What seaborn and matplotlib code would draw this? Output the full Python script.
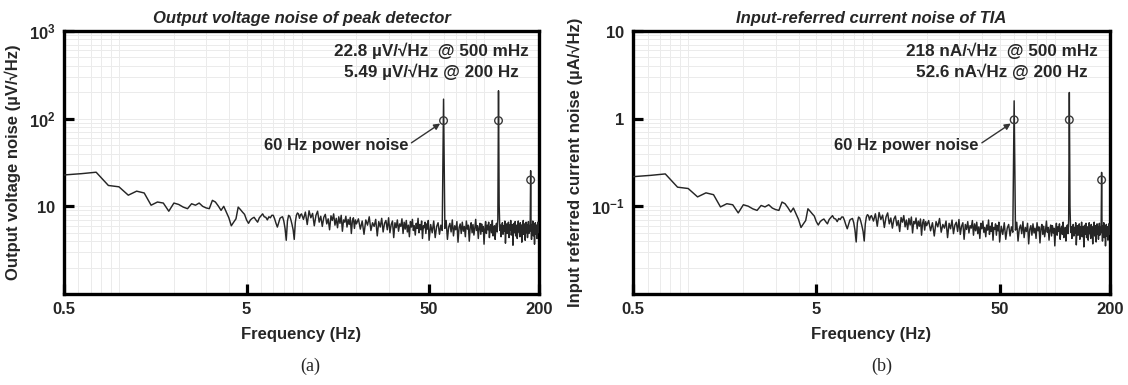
import numpy as np
import pandas as pd
import matplotlib
matplotlib.use("Agg")
import matplotlib.pyplot as plt
import seaborn as sns
from matplotlib.ticker import FixedLocator, FixedFormatter, NullFormatter, LogLocator

# ---------------- data ----------------
# FFT frequency grids (Hz)
freq_low = np.arange(0.5, 10.0001, 0.125)
freq_mid = np.arange(10.25, 20.0001, 0.25)
freq_upper = np.arange(20.5, 50.0001, 0.5)
freq_high = np.arange(51, 200.0001, 1.0)

# output voltage noise of peak detector (uV/sqrt(Hz))
noise_low = [22.8, 23.6, 24.5, 17.3, 16.7, 13.4, 14.9, 14.2, 10.3, 11.2, 10.9, 8.8, 10.9, 10.5,
             9.8, 9.4, 10.7, 10.3, 10.9, 10.0, 9.6, 9.4, 11.7, 11.2, 10.1, 9.0, 10.0, 8.6, 7.4,
             6.0, 6.6, 7.2, 9.8, 9.2, 8.6, 8.1, 7.0, 6.4, 7.0, 7.3, 7.5, 7.0, 6.6, 7.4, 7.8,
             8.2, 7.6, 7.5, 7.0, 7.6, 7.4, 7.9, 7.9, 7.2, 6.4, 5.8, 6.5, 7.3, 7.5, 7.6, 6.8,
             5.6, 4.1, 6.8, 7.9, 7.7, 7.0, 6.2, 5.4, 4.2, 6.6, 7.9, 8.4, 8.2, 7.3, 8.0, 8.2]
noise_mid = [7.1, 8.6, 6.2, 8.9, 7.4, 8.3, 6.0, 7.9, 8.8, 6.6, 7.7, 5.9, 7.5, 8.1, 6.3, 7.2,
             5.4, 7.8, 6.9, 8.2, 6.1, 7.3, 5.7, 7.6, 6.4, 7.9, 5.2, 7.0, 6.6, 7.7, 5.8, 7.1,
             6.2, 7.5, 4.9, 6.8, 7.4, 5.6, 7.0, 6.3]
noise_upper = [7.2, 5.5, 6.8, 4.8, 7.0, 6.1, 7.6, 5.3, 6.5, 5.9, 7.1, 4.6, 6.7, 5.8, 7.3,
               5.1, 6.4, 6.9, 5.4, 7.4, 5.0, 6.2, 6.8, 4.4, 6.5, 5.7, 7.0, 5.2, 6.3, 5.9,
               7.2, 4.9, 6.6, 5.5, 6.9, 5.1, 6.1, 4.5, 6.7, 5.8, 7.1, 5.3, 6.0, 4.7, 6.4,
               5.6, 7.3, 5.0, 6.2, 5.4, 6.8, 4.3, 6.0, 5.7, 6.6, 4.9, 6.3, 5.5, 6.9, 4.1]
noise_high = [6.2, 5.0, 6.8, 4.4, 5.9, 6.5, 4.8, 6.1, 5.3, 167.0, 5.6, 6.9, 4.2, 5.8, 6.4,
              5.1, 7.0, 4.6, 6.0, 5.4, 6.7, 3.9, 5.7, 6.3, 4.9, 6.6, 5.2, 5.9, 4.5, 6.8,
              5.5, 6.1, 4.0, 5.8, 6.5, 5.0, 6.2, 4.7, 5.6, 7.1, 5.3, 6.0, 4.3, 5.7, 6.4,
              4.8, 6.3, 5.2, 5.9, 3.7, 5.5, 6.7, 4.9, 6.1, 5.4, 6.6, 4.4, 5.8, 6.2, 5.0,
              6.9, 4.6, 5.6, 6.0, 4.2, 5.9, 6.4, 5.1, 7.2, 208.0, 10.5, 5.3, 6.1, 4.5, 5.7,
              6.5, 4.8, 6.0, 5.2, 6.8, 3.8, 5.5, 6.3, 4.9, 5.8, 6.6, 4.4, 6.1, 5.4, 6.9,
              4.7, 5.6, 6.2, 3.6, 5.9, 6.4, 5.0, 6.7, 4.6, 5.7, 6.1, 4.3, 5.5, 6.8, 5.1,
              6.0, 4.5, 6.5, 5.3, 5.8, 3.9, 6.2, 5.6, 6.9, 4.8, 5.4, 6.3, 4.1, 5.9, 6.6,
              5.0, 6.1, 4.4, 5.7, 6.7, 4.9, 6.0, 5.2, 6.4, 25.5, 5.5, 4.2, 6.2, 5.1, 6.8,
              4.6, 5.8, 6.3, 3.7, 5.6, 6.5, 4.8, 5.9, 6.1, 4.3, 5.4, 6.6, 5.0, 6.0, 5.49]

# conversion of output voltage noise to input-referred current noise (from the annotations)
uV_to_uA = 0.218 / 22.8

# marked harmonics of the 60 Hz power noise
harm_freq = [60, 120, 180]
harm_volt = [95, 95, 20]        # uV/sqrt(Hz)
harm_curr = [0.97, 0.97, 0.20]  # uA/sqrt(Hz)

x_ticks = [0.5, 5, 50, 200]
x_ticklabels = ["0.5", "5", "50", "200"]
yticks_a = [10, 100, 1000]
yticklabels_a = [r"$10$", r"$10^{2}$", r"$10^{3}$"]
yticks_b = [0.1, 1, 10]
yticklabels_b = [r"$10^{-1}$", r"$1$", r"$10$"]

titles = ["Output voltage noise of peak detector", "Input-referred current noise of TIA"]
ylabels = ["Output voltage noise (\u00b5V/\u221aHz)", "Input referred current noise (\u00b5A/\u221aHz)"]
notes_a = ["22.8 \u00b5V/\u221aHz  @ 500 mHz", "5.49 \u00b5V/\u221aHz @ 200 Hz"]
notes_b = ["218 nA/\u221aHz  @ 500 mHz", "52.6 nA\u221aHz @ 200 Hz"]

# ---------------- build tables ----------------
freq = np.concatenate([freq_low, freq_mid, freq_upper, freq_high])
volt = np.array(noise_low + noise_mid + noise_upper + noise_high)
df_a = pd.DataFrame({"freq": freq, "noise": volt})
df_b = pd.DataFrame({"freq": freq, "noise": volt * uV_to_uA})
mk_a = pd.DataFrame({"freq": harm_freq, "noise": harm_volt})
mk_b = pd.DataFrame({"freq": harm_freq, "noise": harm_curr})

# ---------------- style ----------------
sns.set_theme(style="whitegrid")
plt.rcParams["font.family"] = ["Liberation Sans", "DejaVu Sans"]
plt.rcParams["mathtext.fontset"] = "custom"
plt.rcParams["mathtext.rm"] = "Liberation Sans:bold"
plt.rcParams["mathtext.it"] = "Liberation Sans:bold"
plt.rcParams["mathtext.bf"] = "Liberation Sans:bold"

W, H = 1128, 385
fig = plt.figure(figsize=(W / 100, H / 100), dpi=100)
fig.patch.set_facecolor("white")

boxes = [(64, 539), (633, 1110)]
top_px, bot_px = 31, 294
panels = [
    dict(df=df_a, mk=mk_a, ylim=(1, 1000), yt=yticks_a, ytl=yticklabels_a, notes=notes_a, s=1.0),
    dict(df=df_b, mk=mk_b, ylim=(0.01, 10), yt=yticks_b, ytl=yticklabels_b, notes=notes_b, s=0.01),
]
sub = ["(a)", "(b)"]
sub_x = [310, 882]

for i, p in enumerate(panels):
    x0, x1 = boxes[i]
    ax = fig.add_axes([x0 / W, 1 - bot_px / H, (x1 - x0) / W, (bot_px - top_px) / H])
    ax.set_xscale("log")
    ax.set_yscale("log")
    sns.lineplot(data=p["df"], x="freq", y="noise", ax=ax, color="#262626", lw=1.05,
                 estimator=None, sort=False, zorder=3)
    sns.scatterplot(data=p["mk"], x="freq", y="noise", ax=ax, marker="o", s=30,
                    facecolor="none", edgecolor="#3a3a3a", linewidth=1.0, zorder=4)
    ax.set_xlim(0.5, 200)
    ax.set_ylim(*p["ylim"])

    ax.xaxis.set_major_locator(FixedLocator(x_ticks))
    ax.xaxis.set_major_formatter(FixedFormatter(x_ticklabels))
    ax.xaxis.set_minor_locator(LogLocator(base=10, subs=np.arange(1, 10), numticks=20))
    ax.xaxis.set_minor_formatter(NullFormatter())
    ax.yaxis.set_major_locator(FixedLocator(p["yt"]))
    ax.yaxis.set_major_formatter(FixedFormatter(p["ytl"]))
    ax.yaxis.set_minor_locator(LogLocator(base=10, subs=np.arange(1, 10), numticks=20))
    ax.yaxis.set_minor_formatter(NullFormatter())

    ax.grid(True, which="both", color="#ebebeb", lw=0.7, zorder=0)
    ax.set_axisbelow(True)
    ax.tick_params(which="major", direction="in", length=7, width=2.3, color="black",
                   labelsize=12, pad=6, top=False, right=False, left=True, bottom=True)
    ax.tick_params(which="minor", length=0)
    for lab in ax.get_xticklabels() + ax.get_yticklabels():
        lab.set_fontweight("bold")
    for sp in ax.spines.values():
        sp.set_visible(True)
        sp.set_color("black")
        sp.set_linewidth(2.4)

    ax.set_xlabel("Frequency (Hz)", fontsize=12, fontweight="bold", labelpad=7)
    ax.set_ylabel(ylabels[i], fontsize=12, fontweight="bold", labelpad=6)
    ax.set_title(titles[i], fontsize=12, fontweight="bold", style="italic", pad=6)

    ax.text(0.773, 0.924, p["notes"][0], transform=ax.transAxes, ha="center", va="center",
            fontsize=12.3, fontweight="bold")
    ax.text(0.773, 0.843, p["notes"][1], transform=ax.transAxes, ha="center", va="center",
            fontsize=12.3, fontweight="bold")

    s = p["s"]
    ax.annotate("", xy=(57.5, 88 * s), xytext=(40, 53 * s),
                arrowprops=dict(arrowstyle="-|>", lw=1.0, color="#333333",
                                mutation_scale=9, shrinkA=0, shrinkB=0), zorder=5)
    ax.text(38.5, 50 * s, "60 Hz power noise", ha="right", va="center",
            fontsize=12, fontweight="bold", zorder=5)

    fig.text(sub_x[i] / W, 1 - 366 / H, sub[i], ha="center", va="center",
             fontsize=13, family="Liberation Serif")

fig.savefig("out.png", dpi=100, facecolor="white")
